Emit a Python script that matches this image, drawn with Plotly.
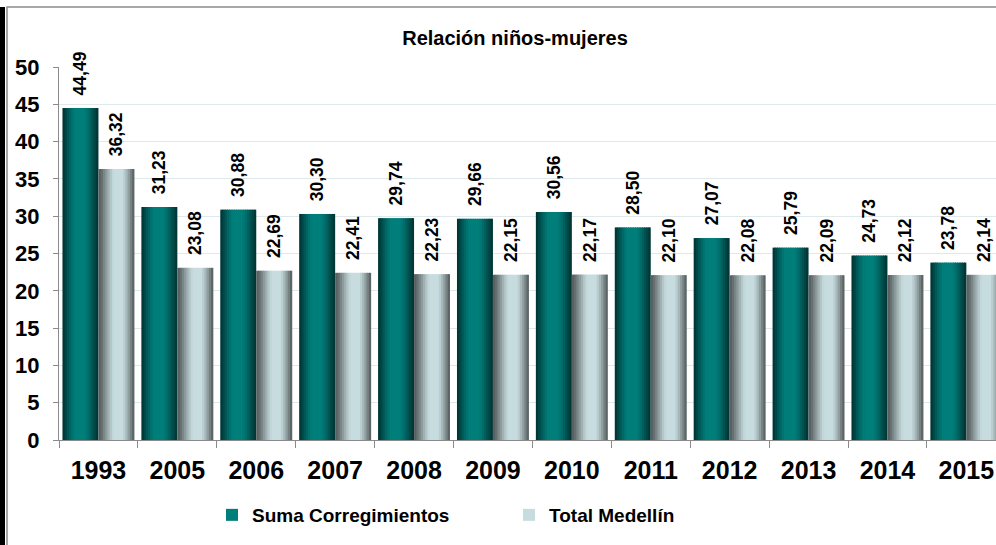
import numpy as np
import plotly.graph_objects as go

years = ["1993", "2005", "2006", "2007", "2008", "2009", "2010",
         "2011", "2012", "2013", "2014", "2015"]
suma_corregimientos = [44.49, 31.23, 30.88, 30.30, 29.74, 29.66, 30.56,
                       28.50, 27.07, 25.79, 24.73, 23.78]
total_medellin = [36.32, 23.08, 22.69, 22.41, 22.23, 22.15, 22.17,
                  22.10, 22.08, 22.09, 22.12, 22.14]

FONT = "Arial, Liberation Sans, sans-serif"
W, H = 996, 545
L, R, T, B = 59, 0, 67, 105
bw = 0.456  # bar width in category units
n_strips = 16


def hex2rgb(h):
    h = h.lstrip("#")
    return np.array([int(h[i:i + 2], 16) for i in (0, 2, 4)])


def mix(c1, c2, t):
    c = hex2rgb(c1) * (1 - t) + hex2rgb(c2) * t
    return "rgb(%d,%d,%d)" % tuple(c.round().astype(int))


def shade(p, peak):
    # cylinder-like brightness across the bar, brightest at `peak`
    a = np.log(0.5) / np.log(peak)
    return min(1.0, 1.08 * np.sin(np.pi * p ** a)) ** 1.2


def labels(vals):
    return ["  " + f"{v:.2f}".replace(".", ",") for v in vals]


series = [
    ("Suma Corregimientos", suma_corregimientos, -bw, "#003232", "#007e7a", 0.48),
    ("Total Medellín", total_medellin, 0.0, "#545c5c", "#c7dcdf", 0.55),
]

fig = go.Figure()
for name, vals, off, edge, center, peak in series:
    sw = bw / n_strips
    for i in range(n_strips):
        p = (i + 0.5) / n_strips
        w = sw if i == n_strips - 1 else sw * 1.4
        fig.add_trace(go.Bar(
            x=years, y=vals, name=name,
            offset=off + i * sw, width=w,
            marker=dict(color=mix(edge, center, shade(p, peak)), line=dict(width=0)),
            showlegend=(i == n_strips // 2), legendgroup=name, hoverinfo="skip",
        ))

# value labels on transparent full-width bars drawn on top
for name, vals, off, edge, center, peak in series:
    fig.add_trace(go.Bar(
        x=years, y=vals, name=name, offset=off, width=bw,
        marker=dict(color="rgba(0,0,0,0)", line=dict(width=0)),
        text=labels(vals), textposition="outside",
        textangle=-90, constraintext="none", cliponaxis=False,
        textfont=dict(family=FONT, size=17.5, color="black", weight="bold"),
        showlegend=False, legendgroup=name,
    ))

px_x = lambda p: (p - L) / (W - L - R)
px_y = lambda p: (H - B - p) / (H - T - B)

fig.update_layout(
    width=W, height=H,
    margin=dict(l=L, r=R, t=T, b=B),
    barmode="overlay",
    paper_bgcolor="white", plot_bgcolor="white",
    font=dict(family=FONT, color="black"),
    title=dict(text="<b>Relación niños-mujeres</b>", x=515 / W, xanchor="center",
               y=1 - 38 / H, yanchor="middle", yref="container",
               font=dict(size=20, family=FONT, color="black")),
    legend=dict(orientation="h", x=px_x(212), xanchor="left", y=px_y(515), yanchor="middle",
                entrywidth=252, entrywidthmode="pixels",
                font=dict(size=19, family=FONT, color="black", weight="bold"),
                itemclick=False, traceorder="normal"),
    xaxis=dict(range=[-0.5, (W - L - R) / 78.9 - 0.5], showline=True, linecolor="#8a8a8a",
               linewidth=1, ticks="outside", tickson="boundaries", ticklen=7,
               tickcolor="#8a8a8a", showgrid=False, ticklabelstandoff=8, automargin=False,
               tickfont=dict(size=25, family=FONT, color="black", weight="bold")),
    yaxis=dict(range=[0, 50], dtick=5, showline=True, linecolor="#8a8a8a", linewidth=1,
               ticks="outside", ticklen=5, tickcolor="#8a8a8a", automargin=False,
               gridcolor="#dde9eb", gridwidth=1, zeroline=False, ticklabelstandoff=9,
               tickfont=dict(size=22, family=FONT, color="black", weight="bold")),
    shapes=[
        dict(type="rect", xref="paper", yref="paper",
             x0=px_x(7), x1=px_x(W + 10), y0=px_y(H + 10), y1=px_y(7),
             line=dict(color="#8c8c8c", width=1.5), fillcolor="rgba(0,0,0,0)", layer="below"),
        dict(type="line", xref="paper", yref="paper",
             x0=px_x(2.5), x1=px_x(2.5), y0=px_y(H + 10), y1=px_y(7),
             line=dict(color="black", width=5)),
    ],
)

fig.write_html("out.html", config={"displayModeBar": False},
               post_script="document.body.style.margin='0';")
